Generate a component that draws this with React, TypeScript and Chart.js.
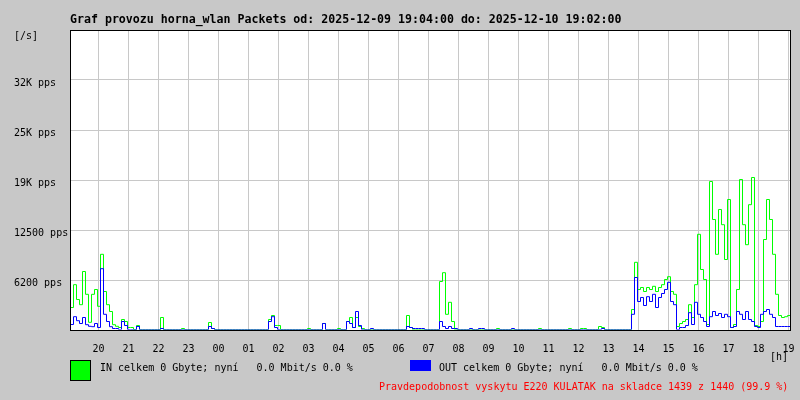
import React, { useEffect, useRef } from "react";
import { Chart, registerables } from "chart.js";

Chart.register(...registerables);

// ---- data ----
const titleText = "Graf provozu horna_wlan Packets od: 2025-12-09 19:04:00 do: 2025-12-10 19:02:00";
const hourLabels = ["20", "21", "22", "23", "00", "01", "02", "03", "04", "05", "06", "07", "08", "09", "10", "11", "12", "13", "14", "15", "16", "17", "18", "19"];
const firstHourMinute = 56; // 20:00 is 56 minutes after 19:04
const sampleMinutes = 6;
const totalMinutes = 1440;
const yMax = 37500;
const yTickValues = [6250, 12500, 18750, 25000, 31250];
const yTickLabels = ["6200 pps", "12500 pps", "19K pps", "25K pps", "32K pps"];

// IN packets per second, one sample every 6 minutes from 19:04
const inPps = [
  2750, 5600, 3750, 3100, 7250, 4400, 900, 4400, 5000, 2900,
  9400, 4750, 3100, 2250, 600, 400, 250, 1250, 1000, 250,
  250, 0, 500, 0, 0, 0, 0, 0, 0, 0,
  1500, 0, 0, 0, 0, 0, 0, 125, 0, 0,
  0, 0, 0, 0, 0, 0, 875, 125, 0, 0,
  0, 0, 0, 0, 0, 0, 0, 0, 0, 0,
  0, 0, 0, 0, 0, 0, 1250, 1750, 500, 500,
  0, 0, 0, 0, 0, 0, 0, 0, 0, 125,
  0, 0, 0, 0, 750, 0, 0, 0, 0, 125,
  0, 0, 1000, 1500, 250, 1500, 375, 125, 0, 0,
  0, 0, 0, 0, 0, 0, 0, 0, 0, 0,
  0, 0, 1750, 250, 0, 0, 0, 0, 0, 0,
  0, 0, 0, 6000, 7100, 1900, 3400, 1000, 0, 0,
  0, 0, 0, 0, 0, 0, 0, 0, 0, 0,
  0, 0, 125, 0, 0, 0, 0, 0, 0, 0,
  0, 0, 0, 0, 0, 0, 125, 0, 0, 0,
  0, 0, 0, 0, 0, 0, 125, 0, 0, 0,
  125, 125, 0, 0, 0, 0, 375, 250, 0, 0,
  0, 0, 0, 0, 0, 0, 0, 2500, 8400, 5000,
  5250, 4750, 5250, 5000, 5400, 4750, 5250, 5600, 6250, 6600,
  4750, 4400, 375, 750, 1000, 1250, 3100, 1500, 5600, 11900,
  7500, 6250, 625, 18500, 13750, 9400, 15000, 13100, 8750, 16250,
  250, 625, 5000, 18750, 13100, 10600, 15600, 19000, 500, 375,
  1000, 11250, 16250, 13750, 9400, 4400, 1750, 1500, 1600, 1750,
];

// OUT packets per second
const outPps = [
  625, 1600, 1100, 750, 1500, 600, 400, 350, 750, 250,
  7600, 1900, 1000, 350, 125, 125, 0, 1000, 500, 0,
  0, 0, 375, 0, 0, 0, 0, 0, 0, 0,
  125, 0, 0, 0, 0, 0, 0, 0, 0, 0,
  0, 0, 0, 0, 0, 0, 375, 125, 0, 0,
  0, 0, 0, 0, 0, 0, 0, 0, 0, 0,
  0, 0, 0, 0, 0, 0, 1000, 1600, 250, 0,
  0, 0, 0, 0, 0, 0, 0, 0, 0, 0,
  0, 0, 0, 0, 750, 0, 0, 0, 0, 0,
  0, 0, 1000, 750, 250, 2250, 500, 0, 0, 0,
  125, 0, 0, 0, 0, 0, 0, 0, 0, 0,
  0, 0, 375, 250, 125, 125, 125, 125, 0, 0,
  0, 0, 0, 1000, 375, 125, 375, 125, 125, 0,
  0, 0, 0, 125, 0, 0, 125, 125, 0, 0,
  0, 0, 0, 0, 0, 0, 0, 125, 0, 0,
  0, 0, 0, 0, 0, 0, 0, 0, 0, 0,
  0, 0, 0, 0, 0, 0, 0, 0, 0, 0,
  0, 0, 0, 0, 0, 0, 0, 125, 0, 0,
  0, 0, 0, 0, 0, 0, 0, 1900, 6500, 3500,
  4000, 3000, 4100, 3500, 4400, 2750, 4000, 4500, 5000, 5900,
  3500, 3100, 0, 250, 250, 500, 2100, 625, 3400, 1900,
  1500, 1000, 375, 1600, 2250, 1750, 2000, 1500, 1900, 1600,
  250, 375, 2250, 1900, 1250, 2250, 1250, 1000, 375, 250,
  1900, 2250, 2500, 1900, 1500, 375, 375, 375, 375, 375,
];

const legendIn = "IN celkem 0 Gbyte; nyní   0.0 Mbit/s 0.0 %";
const legendOut = "OUT celkem 0 Gbyte; nyní   0.0 Mbit/s 0.0 %";
const footerText = "Pravdepodobnost vyskytu E220 KULATAK na skladce 1439 z 1440 (99.9 %)";

// ---- styles ----
const BG = "#c8c8c8";
const GRID = "#c8c8c8";
const GREEN = "#00ff00";
const BLUE = "#0000ff";
const MONO = '"DejaVu Sans Mono", "Liberation Mono", monospace';

function toPoints(values: number[]) {
  const pts = values.map((v, i) => ({ x: i * sampleMinutes, y: v }));
  pts.push({ x: totalMinutes, y: values[values.length - 1] });
  return pts;
}

const hourTicks = hourLabels.map((_, k) => firstHourMinute + k * 60);

const mrtgPlugin = {
  id: "mrtgDecor",
  beforeDraw(chart: any) {
    const ctx = chart.ctx;
    const a = chart.chartArea;
    ctx.save();
    ctx.fillStyle = BG;
    ctx.fillRect(0, 0, chart.width, chart.height);
    ctx.fillStyle = "#ffffff";
    ctx.fillRect(a.left, a.top, a.right - a.left, a.bottom - a.top);
    ctx.restore();
  },
  beforeDatasetsDraw(chart: any) {
    chart.ctx.save();
    chart.ctx.translate(0.5, -0.5);
  },
  afterDatasetsDraw(chart: any) {
    const ctx = chart.ctx;
    ctx.restore();
    const a = chart.chartArea;
    ctx.save();
    ctx.fillStyle = "#000000";
    ctx.fillRect(a.left, a.top, a.right - a.left + 1, 1);
    ctx.fillRect(a.right, a.top, 1, a.bottom - a.top);
    ctx.fillRect(a.left, a.top, 1, a.bottom - a.top + 1);
    ctx.fillRect(a.left, a.bottom, a.right - a.left + 1, 1);
    ctx.restore();
  },
  afterDraw(chart: any) {
    const ctx = chart.ctx;
    const xs = chart.scales.x;
    const ys = chart.scales.y;
    ctx.save();
    ctx.textBaseline = "alphabetic";
    // title
    ctx.fillStyle = "#000000";
    ctx.font = `bold 11.6px ${MONO}`;
    ctx.textAlign = "left";
    ctx.fillText(titleText, 70, 23);
    // unit
    ctx.font = `10px ${MONO}`;
    ctx.fillText("[/s]", 14, 39);
    // y labels
    yTickValues.forEach((v, i) => {
      const y = Math.round(ys.getPixelForValue(v));
      ctx.fillText(yTickLabels[i], 14, y + 6);
    });
    // x labels
    ctx.textAlign = "center";
    hourTicks.forEach((m, i) => {
      const x = Math.round(xs.getPixelForValue(m)) + 0.5;
      ctx.fillText(hourLabels[i], x, 352);
    });
    ctx.textAlign = "left";
    ctx.fillText("[h]", 770, 360);
    // legend
    ctx.fillStyle = "#000000";
    ctx.fillRect(70, 360, 21, 21);
    ctx.fillStyle = GREEN;
    ctx.fillRect(71, 361, 19, 19);
    ctx.fillStyle = BLUE;
    ctx.fillRect(410, 360, 21, 11);
    ctx.fillStyle = "#000000";
    ctx.fillText(legendIn, 100, 371);
    ctx.fillText(legendOut, 439, 371);
    ctx.fillStyle = "#ff0000";
    ctx.fillText(footerText, 379, 390);
    ctx.restore();
  },
};

export default function App() {
  const ref = useRef<HTMLCanvasElement | null>(null);
  useEffect(() => {
    document.body.style.margin = "0";
    const canvas = ref.current!;
    const chart = new Chart(canvas, {
      type: "line",
      data: {
        datasets: [
          {
            label: "OUT",
            data: toPoints(outPps),
            borderColor: BLUE,
            borderWidth: 1,
            pointRadius: 0,
            stepped: true,
            fill: false,
            order: 0,
          },
          {
            label: "IN",
            data: toPoints(inPps),
            borderColor: GREEN,
            borderWidth: 1,
            pointRadius: 0,
            stepped: true,
            fill: false,
            order: 1,
          },
        ],
      },
      options: {
        responsive: false,
        devicePixelRatio: 1,
        animation: false,
        events: [],
        layout: { padding: { top: 30, right: 10, left: 0, bottom: 0 } },
        plugins: { legend: { display: false }, tooltip: { enabled: false }, title: { display: false } },
        scales: {
          x: {
            type: "linear",
            min: 0,
            max: totalMinutes,
            afterBuildTicks: (scale: any) => {
              scale.ticks = hourTicks.map((v) => ({ value: v }));
            },
            afterFit: (scale: any) => {
              scale.height = 70;
            },
            ticks: { display: false },
            grid: { color: GRID, lineWidth: 1, drawTicks: false },
            border: { display: false },
          },
          y: {
            type: "linear",
            min: 0,
            max: yMax,
            afterBuildTicks: (scale: any) => {
              scale.ticks = [0, ...yTickValues, yMax].map((v) => ({ value: v }));
            },
            afterFit: (scale: any) => {
              scale.width = 70;
            },
            ticks: { display: false },
            grid: { color: GRID, lineWidth: 1, drawTicks: false },
            border: { display: false },
          },
        },
      },
      plugins: [mrtgPlugin],
    } as any);
    return () => chart.destroy();
  }, []);
  return (
    <canvas
      ref={ref}
      width={800}
      height={400}
      style={{ position: "fixed", left: 0, top: 0, width: 800, height: 400, display: "block" }}
    />
  );
}
